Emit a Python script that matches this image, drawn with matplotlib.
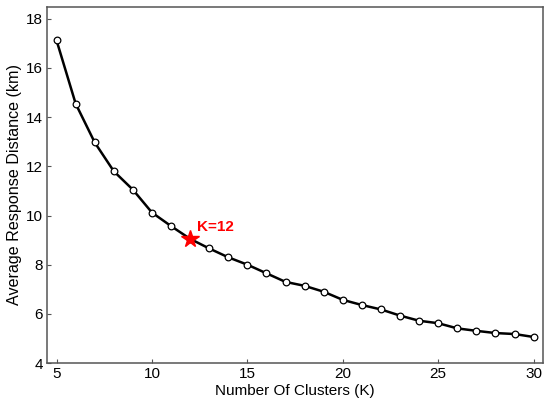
import numpy as np
import matplotlib
matplotlib.use("Agg")
import matplotlib.pyplot as plt

plt.rcParams['font.family'] = ['Liberation Sans', 'DejaVu Sans']

# data
clusters = list(range(5, 31))
avg_distance = [17.12, 14.55, 12.97, 11.80, 11.05, 10.12, 9.57, 9.05, 8.66,
                8.30, 8.00, 7.65, 7.30, 7.14, 6.90, 6.57, 6.36, 6.18, 5.93,
                5.72, 5.62, 5.41, 5.31, 5.22, 5.18, 5.06]
best_k = 12
best_idx = clusters.index(best_k)

fig = plt.figure(figsize=(5.5, 4.07), dpi=100)
ax = fig.add_axes([0.0855, 0.108, 0.902, 0.876])

ax.plot(clusters, avg_distance, color='black', lw=1.8, marker='o', ms=4.8,
        mfc='white', mec='black', mew=0.9, zorder=2)
ax.plot(best_k, avg_distance[best_idx], marker='*', color='red', ms=13, zorder=3)
ax.text(best_k + 0.35, avg_distance[best_idx] + 0.5, 'K=12', color='red',
        fontsize=11, fontweight='bold', va='center', ha='left')

ax.set_xlim(4.5, 30.5)
ax.set_ylim(4, 18.5)
ax.set_xticks([5, 10, 15, 20, 25, 30])
ax.set_yticks([4, 6, 8, 10, 12, 14, 16, 18])
ax.tick_params(direction='in', length=3, width=0.8, color='#555555', pad=3,
               labelsize=11, top=False, right=False)
ax.set_xlabel('Number Of Clusters (K)', fontsize=11, labelpad=2)
ax.set_ylabel('Average Response Distance (km)', fontsize=11.6, labelpad=3)
for s in ax.spines.values():
    s.set_linewidth(1.1)
    s.set_color('#555555')

fig.savefig('out.png', dpi=100)
